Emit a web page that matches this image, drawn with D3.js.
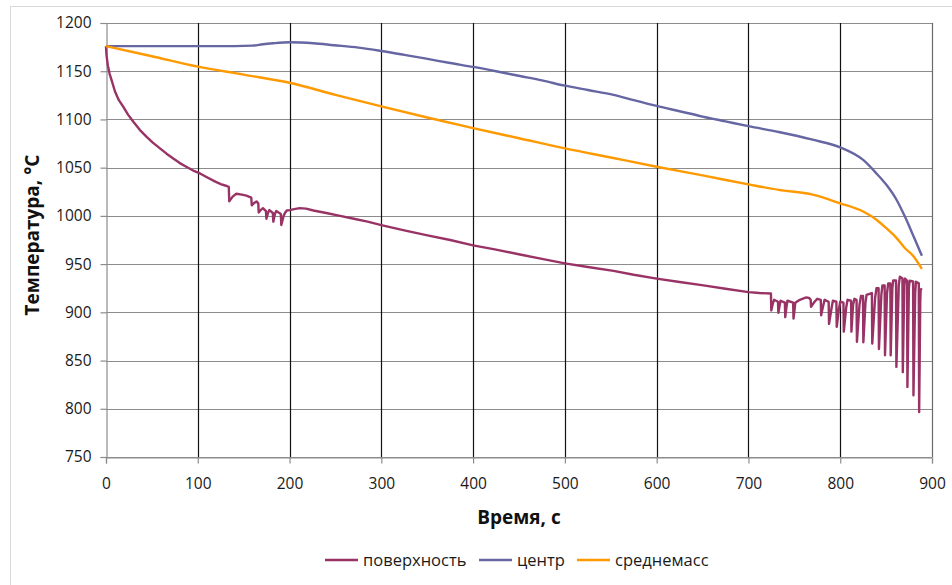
<!DOCTYPE html>
<html><head><meta charset="utf-8">
<script src="https://cdn.jsdelivr.net/npm/d3@7"></script>
<style>
html,body{margin:0;padding:0;background:#fff;}
svg text{font-family:"Open Sans",sans-serif;}
</style></head>
<body>
<svg id="chart" width="952" height="585"></svg>
<script>
// ---- data ----
const xTicks = [0,100,200,300,400,500,600,700,800,900];
const yTicks = [750,800,850,900,950,1000,1050,1100,1150,1200];
const seriesNames = ["поверхность","центр","среднемасс"];
const seriesColors = ["#993366","#6666a3","#ff9900"];

const surfaceTime = [0,0.5,2,4,6,9.8,14,18.9,24,29.8,37,44.3,51,58.8,66,73.3,80,87.9,95,102.4,110,118,125,131.5,133.8,134.3,138,142,148,153,158.3,158.8,161,164,165.9,166.4,168.5,171,174.3,174.8,176.5,178,181.8,182.3,184,185.5,190.5,191,192.5,193.5,195,197,200,205,211,218,226,240,255,270,285,300,325,349,375,400,425,451,475,500,525,553,575,600,625,651,675,700,712,724.5,724.9,726.5,728,732.2,732.6,734,735,739.7,740.1,741.5,742.5,748.7,749.1,750.3,751,756,763,766,767.8,768.2,772,775,778.8,779.2,781.5,783,787.4,787.8,790.5,792,795.8,796.2,798.5,800,803.5,803.9,806.5,808,811.8,812.2,814,815.5,817.8,818.2,821,822.6,824.8,825.2,827.5,828.7,834.5,834.9,838,839.5,841.8,842.2,844.8,846,848.4,848.8,851,852.3,854.6,855,856.8,857.7,860.8,861.2,863.8,865,867.8,868.2,869.8,870.6,872.8,873.2,874.8,875.6,879.4,879.8,881.7,882.5,885.6,886,887.2,887.6,888.7];
const surfaceTemp = [1176,1167,1156,1147,1141,1129,1120,1113,1105,1097.6,1089,1082,1076,1070,1064.5,1059.5,1055,1050.7,1047,1044,1040,1036,1033,1031,1030,1015,1020,1023,1022,1021,1019,1011,1013,1015,1013,1003.5,1006,1008,1005,997,1003,1006,1003,994,1002,1005,1002,990.5,996,1000,1003,1005.6,1006,1007,1008,1007.5,1005.6,1003,1000,997,994,990.5,985,980,975,969.4,965,960,955.5,950.7,947,943,939,935,931.5,928,924.5,921,920,919.6,902,909,913,911,899.5,907,912,910,895,906,912,910,893.6,903,910,913,915.4,915,913,905.7,911,914,913,897,907,913,911,888,904,912,911,885,903,911,910,880,905,913,912,880,908,914,913,869.4,908,917,917,869,910,918,920,867.6,915,925,925,862,918,928,928,855.5,920,930,930,855.5,925,933,933,843.4,928,937,935,838,928,935,933,822.7,925,932.7,932,814,920,931.7,930,796.7,910,923,925];

const centerTime = [0,50,100,140,160,171,182,200,226,248,275,300,325,349,375,400,425,451,475,500,525,553,575,600,625,650,675,700,733,770,800,825,839.5,850.5,861.5,870.6,880,889];
const centerTemp = [1176,1176,1176,1176,1176.5,1178,1179,1180,1179,1177,1174.5,1171,1167,1163,1158.5,1154.5,1150,1145,1140.5,1135,1130.5,1125.5,1120,1114,1108.5,1103,1098,1093,1087,1079,1071,1058,1044,1032,1016.5,999,978.6,958.6];

const meanTime = [0,50,100,150,200,250,300,350,400,450,500,550,600,650,700,733,770,800,825,839.5,850.5,861.5,870.6,880,889];
const meanTemp = [1176,1165.5,1154.7,1146.5,1138,1125.5,1113.5,1102,1091,1080.5,1070,1060.5,1051,1042,1032.7,1027,1022,1013,1004.5,996,987,977,966.5,958,945];

// ---- chart ----
const svg = d3.select("#chart");
const W = 952, H = 585;
const x = d3.scaleLinear().domain([0,900]).range([106,932]);
const y = d3.scaleLinear().domain([750,1200]).range([457,23]);

// outer chart border
svg.append("rect").attr("x",10.5).attr("y",6.5).attr("width",W+20).attr("height",H+20)
  .attr("fill","#fff").attr("stroke","#d9d9d9").attr("stroke-width",1);

// horizontal gridlines
svg.append("g").selectAll("line").data(yTicks).join("line")
  .attr("x1",x(0)).attr("x2",x(900))
  .attr("y1",d=>Math.round(y(d))+0.5).attr("y2",d=>Math.round(y(d))+0.5)
  .attr("stroke","#8c8c8c").attr("stroke-width",1.2);

// vertical gridlines
svg.append("g").selectAll("line").data(xTicks.filter(d=>d>0)).join("line")
  .attr("x1",d=>Math.round(x(d))+0.5).attr("x2",d=>Math.round(x(d))+0.5)
  .attr("y1",y(1200)).attr("y2",y(750))
  .attr("stroke",d=>d===900?"#6a6a6a":"#111").attr("stroke-width",1.2);

// axes
const yAxis = d3.axisLeft(y).tickValues(yTicks).tickSize(6).tickPadding(9).tickFormat(d3.format("d"));
const gy = svg.append("g").attr("transform",`translate(${Math.round(x(0))+0.5},0)`).call(yAxis);
const xAxis = d3.axisBottom(x).tickValues(xTicks).tickSize(6).tickPadding(14).tickFormat(d3.format("d"));
const gx = svg.append("g").attr("transform",`translate(0,${Math.round(y(750))+0.5})`).call(xAxis);
[gx,gy].forEach(g=>{
  g.select(".domain").attr("stroke","#8c8c8c").attr("stroke-width",1.2);
  g.selectAll(".tick line").attr("stroke","#8c8c8c").attr("stroke-width",1.2);
  g.selectAll(".tick text").attr("fill","#1a1a1a").style("font-size","15.5px").style("font-family","'Open Sans',sans-serif");
});
gx.selectAll(".tick line").attr("y1",0);

// lines
const series = [
  {t:surfaceTime, v:surfaceTemp, curve:d3.curveLinear},
  {t:centerTime, v:centerTemp, curve:d3.curveMonotoneX},
  {t:meanTime, v:meanTemp, curve:d3.curveMonotoneX}
];
series.forEach((s,i)=>{
  const pts = s.t.map((t,k)=>[t,s.v[k]]);
  const line = d3.line().x(d=>x(d[0])).y(d=>y(d[1])).curve(s.curve);
  svg.append("path").attr("d",line(pts)).attr("fill","none")
    .attr("stroke",seriesColors[i]).attr("stroke-width",2.4).attr("stroke-linejoin","round");
});

// axis titles
svg.append("text").attr("x",(x(0)+x(900))/2).attr("y",524).attr("text-anchor","middle")
  .style("font-size","19px").style("font-weight","bold").attr("fill","#111").text("Время, с");
svg.append("text").attr("transform",`translate(39,${(y(750)+y(1200))/2 - 5}) rotate(-90)`)
  .attr("text-anchor","middle").style("font-size","19px").style("font-weight","bold").attr("fill","#111")
  .text("Температура, °C");

// legend
const legendX = [325,479,577];
seriesNames.forEach((n,i)=>{
  const g = svg.append("g").attr("transform",`translate(${legendX[i]},560)`);
  g.append("line").attr("x1",0).attr("x2",33).attr("y1",0).attr("y2",0)
    .attr("stroke",seriesColors[i]).attr("stroke-width",2.4);
  g.append("text").attr("x",38).attr("y",5.5).style("font-size","16.5px").attr("fill","#1a1a1a").text(n);
});
</script>
</body></html>
